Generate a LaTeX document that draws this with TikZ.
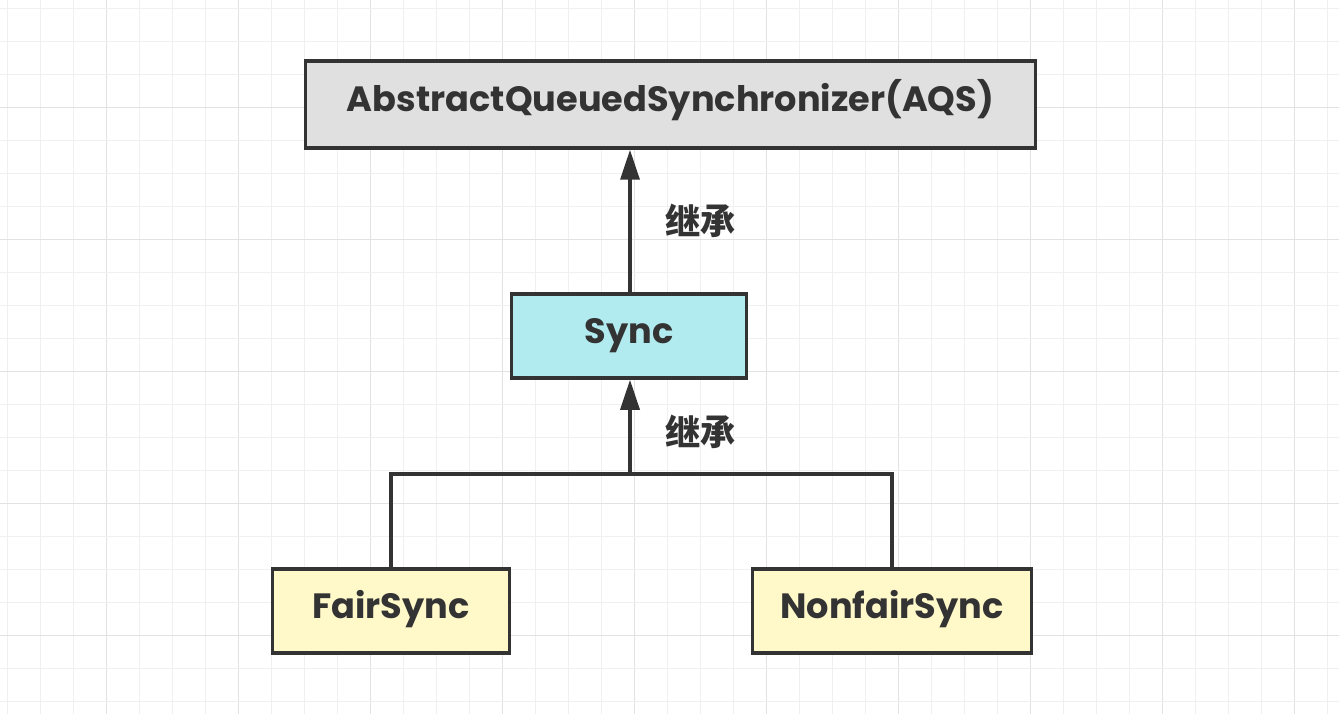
\documentclass[tikz,border=0pt]{standalone}
\usepackage{fontspec}
\setmainfont{Poppins}
\newfontfamily\cjk{Noto Sans CJK SC}
\usetikzlibrary{arrows.meta}
\definecolor{ink}{HTML}{333333}
\definecolor{gridminor}{HTML}{F0F0F0}
\definecolor{gridmajor}{HTML}{E2E2E2}
\definecolor{aqsgray}{HTML}{E0E0E0}
\definecolor{synccyan}{HTML}{B2EBEF}
\definecolor{subyellow}{HTML}{FFF8C9}
\begin{document}
\begin{tikzpicture}[x=0.02cm, y=-0.02cm,
    cls/.style={draw=ink, line width=2pt, text=ink, font=\fontsize{20}{24}\selectfont\bfseries,
        text height=0.9em, text depth=0.1em, minimum height=1.68cm},
    inherit/.style={draw=ink, line width=2pt, -{Triangle[length=0.6cm, width=0.38cm]}},
    branch/.style={draw=ink, line width=2pt},
    tag/.style={text=ink, font=\cjk\fontsize{20}{24}\selectfont\bfseries}]
    % background grid
    \useasboundingbox (0,0) rectangle (1339,714);
    \foreach \k in {0,...,40} {
        \pgfmathtruncatemacro{\m}{mod(\k,4)}
        \ifnum\m=3 \draw[gridmajor, line width=0.6pt] (7.3+33*\k,0) -- (7.3+33*\k,714);
        \else \draw[gridminor, line width=0.6pt] (7.3+33*\k,0) -- (7.3+33*\k,714); \fi
    }
    \foreach \k in {0,...,21} {
        \pgfmathtruncatemacro{\m}{mod(\k,4)}
        \ifnum\m=3 \draw[gridmajor, line width=0.6pt] (0,8.3+33*\k) -- (1339,8.3+33*\k);
        \else \draw[gridminor, line width=0.6pt] (0,8.3+33*\k) -- (1339,8.3+33*\k); \fi
    }

    \node[cls, fill=aqsgray, minimum width=14.6cm, minimum height=1.74cm] (aqs) at (670.5,104.5) {AbstractQueuedSynchronizer(AQS)};
    \node[cls, fill=synccyan, minimum width=4.7cm] (sync) at (629,336) {Sync};
    \node[cls, fill=subyellow, minimum width=4.74cm] (fair) at (391,611) {FairSync};
    \node[cls, fill=subyellow, minimum width=5.58cm] (nonfair) at (892,611) {NonfairSync};
    \coordinate (split) at (630,474);

    \draw[inherit] (sync.north -| split) -- node[tag, right=0.55cm] {继承} (aqs.south -| split);
    \draw[branch] (fair.north) |- (split) -| (nonfair.north);
    \draw[inherit] (split) -- node[tag, right=0.55cm, yshift=-0.1cm] {继承} (sync.south -| split);
\end{tikzpicture}
\end{document}
